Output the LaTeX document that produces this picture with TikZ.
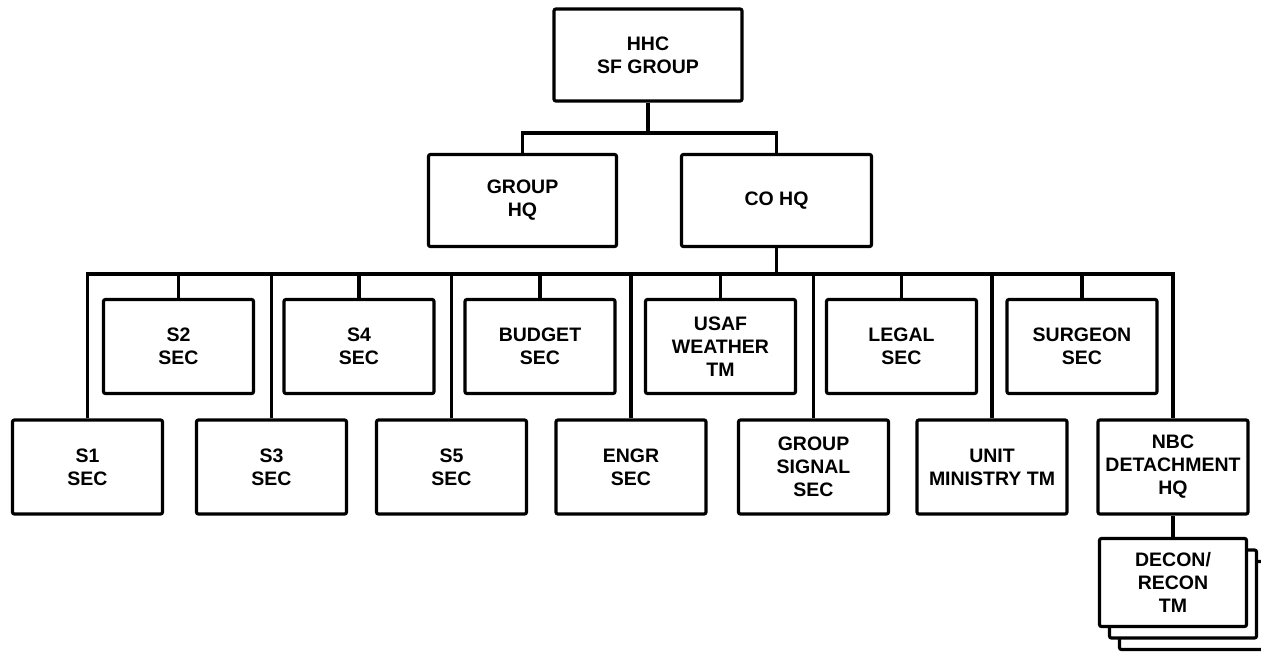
\documentclass[tikz,border=0pt]{standalone}
\usepackage{fontspec}
\setmainfont{Liberation Sans}
\begin{document}
\begin{tikzpicture}[x=1pt,y=-1pt,line width=3.2pt,
  box/.style={draw, rounded corners=2pt, fill=white, align=center, inner sep=0pt,
    font=\fontsize{19.5}{23}\selectfont\bfseries},
  topbox/.style={box, minimum width=188pt, minimum height=92pt},
  secbox/.style={box, minimum width=150pt, minimum height=94pt},
  teambox/.style={box, minimum width=147pt, minimum height=88pt}]
\clip (0,0) rectangle (1261,654);
\fill[white] (0,0) rectangle (1261,654);
% top levels
\node[topbox] (hhc) at (648,55) {HHC\\SF GROUP};
\node[topbox] (ghq) at (522.5,200.5) {GROUP\\HQ};
\node[topbox, minimum width=190pt] (cohq) at (776.5,200.5) {CO HQ};
% upper row
\node[secbox] (s2) at (178.5,346.5) {S2\\SEC};
\node[secbox] (s4) at (359,346.5) {S4\\SEC};
\node[secbox] (budget) at (540,346.5) {BUDGET\\SEC};
\node[secbox] (usaf) at (720.5,346.5) {USAF\\WEATHER\\TM};
\node[secbox] (legal) at (901.5,346.5) {LEGAL\\SEC};
\node[secbox] (surgeon) at (1082,346.5) {SURGEON\\SEC};
% lower row
\node[secbox] (s1) at (87.5,467) {S1\\SEC};
\node[secbox] (s3) at (271.5,467) {S3\\SEC};
\node[secbox] (s5) at (451.5,467) {S5\\SEC};
\node[secbox] (engr) at (631,467) {ENGR\\SEC};
\node[secbox] (gsig) at (813.5,467) {GROUP\\SIGNAL\\SEC};
\node[secbox] (unit) at (992,467) {UNIT\\MINISTRY TM};
\node[secbox] (nbc) at (1173,467) {NBC\\DETACHMENT\\HQ};
% stacked teams
\node[teambox] (decon3) at (1193,605.5) {};
\node[teambox] (decon2) at (1183,594) {};
\node[teambox] (decon) at (1173,582.5) {DECON/\\RECON\\TM};
% connectors
\coordinate (j1) at (648,133);
\coordinate (bus) at (0,274);
\draw (hhc.south) -- (j1);
\draw (ghq.north) -- (ghq.north |- j1) -- (cohq.north |- j1) -- (cohq.north);
\draw (cohq.south) -- (cohq.south |- bus);
\draw (s1.north) -- (s1.north |- bus) -- (nbc.north |- bus) -- (nbc.north);
\foreach \n in {s3,s5,engr,gsig,unit,s2,s4,budget,usaf,legal,surgeon}
  \draw (\n.north) -- (\n.north |- bus);
\draw (nbc.south) -- (decon.north);
\end{tikzpicture}
\end{document}
